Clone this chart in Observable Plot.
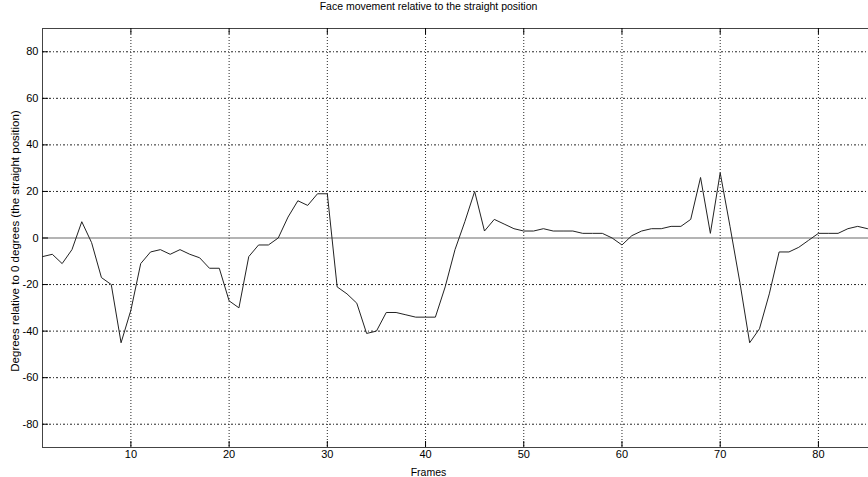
<!DOCTYPE html>
<html>
<head>
<meta charset="utf-8">
<script src="https://cdn.jsdelivr.net/npm/d3@7"></script>
<script src="https://cdn.jsdelivr.net/npm/@observablehq/plot@0.6"></script>
<style>
  html, body { margin: 0; padding: 0; background: #fff; }
  svg { display: block; }
</style>
</head>
<body>
<div id="chart"></div>
<script>
const title = "Face movement relative to the straight position";
const xLabel = "Frames";
const yLabel = "Degrees relative to 0 degrees (the straight position)";

const frames = d3.range(1, 86);
const degrees = [
  -8, -7, -11, -5, 7, -2, -17, -20, -45, -31,
  -11, -6, -5, -7, -5, -7, -8.5, -13, -13, -27,
  -30, -8, -3, -3, 0, 9, 16, 14, 19, 19,
  -21, -24, -28, -41, -40, -32, -32, -33, -34, -34,
  -34, -21, -5, 7, 20, 3, 8, 6, 4, 3,
  3, 4, 3, 3, 3, 2, 2, 2, 0, -3,
  1, 3, 4, 4, 5, 5, 8, 26, 2, 28,
  5, -19, -45, -39, -24, -6, -6, -4, -1, 2,
  2, 2, 4, 5, 4
];
const xTicks = [10, 20, 30, 40, 50, 60, 70, 80];
const yTicks = [-80, -60, -40, -20, 0, 20, 40, 60, 80];

const data = frames.map((f, i) => ({frame: f, deg: degrees[i]}));

const font = "'Liberation Sans', Arial, Helvetica, sans-serif";
const innerH = 477 - 28 - 30;

const chart = Plot.plot({
  width: 868,
  height: 477,
  marginTop: 28,
  marginBottom: 30,
  marginLeft: 42,
  marginRight: 0,
  style: {fontFamily: font, fontSize: "11px", color: "#000", background: "#fff"},
  x: {domain: [1, 85.1], ticks: xTicks},
  y: {domain: [-90, 90], ticks: yTicks},
  marks: [
    // grid
    Plot.ruleX(xTicks, {x: d => d, stroke: "#000", strokeWidth: 1, strokeDasharray: "1,2", strokeOpacity: 0.85}),
    Plot.ruleY(yTicks.filter(d => d !== 0), {y: d => d, stroke: "#000", strokeWidth: 1, strokeDasharray: "2,2,1,2", strokeOpacity: 0.85}),
    // zero line
    Plot.ruleY([0], {stroke: "#6a6a6a", strokeWidth: 1.2}),
    // axes box (top, bottom, left)
    Plot.ruleY([90], {stroke: "#444", strokeWidth: 1}),
    Plot.ruleY([-90], {stroke: "#444", strokeWidth: 1}),
    Plot.ruleX([1], {stroke: "#444", strokeWidth: 1}),
    // inward ticks
    Plot.tickX(xTicks, {x: d => d, insetTop: innerH - 6, stroke: "#000"}),
    Plot.tickX(xTicks, {x: d => d, insetBottom: innerH - 6, stroke: "#000"}),
    Plot.tickY(yTicks, {y: d => d, insetRight: 868 - 42 - 6, stroke: "#000"}),
    // axes labels
    Plot.axisX(xTicks, {tickSize: 0, tickPadding: 3, label: null, fontSize: 11, tickFormat: d => String(d)}),
    Plot.axisY(yTicks, {tickSize: 0, tickPadding: 4, label: null, fontSize: 11, tickFormat: d => String(d)}),
    // data line
    Plot.line(data, {x: "frame", y: "deg", stroke: "#222", strokeWidth: 1}),
    // titles
    Plot.text([title], {frameAnchor: "top", dy: -26, dx: -27, fontSize: 10.5, text: d => d}),
    Plot.text([xLabel], {frameAnchor: "bottom", dy: 28, dx: -27, fontSize: 10.5, text: d => d}),
    Plot.text([yLabel], {frameAnchor: "left", textAnchor: "middle", dx: -27, dy: 3, rotate: -90, fontSize: 11.5, text: d => d})
  ]
});
document.getElementById("chart").appendChild(chart);
</script>
</body>
</html>
